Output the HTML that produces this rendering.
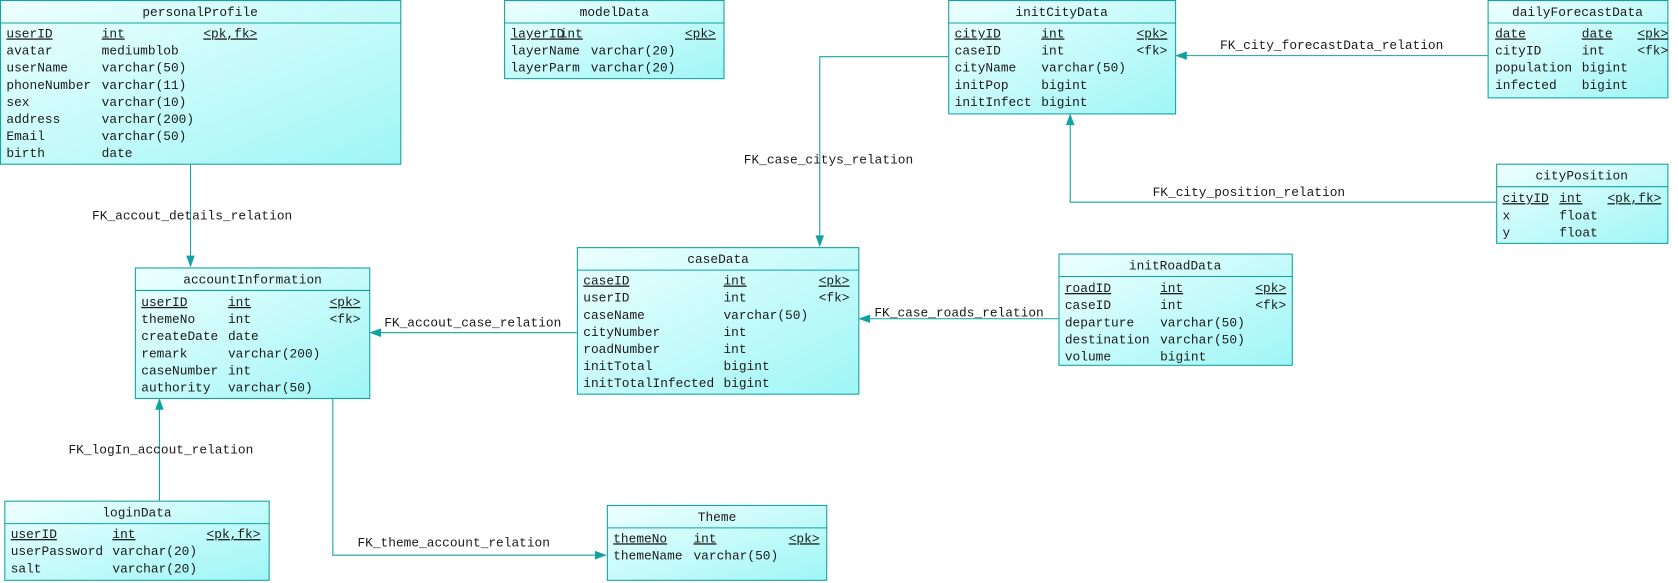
<!DOCTYPE html>
<html><head><meta charset="utf-8"><style>
html,body{margin:0;padding:0;background:#fff;width:1678px;height:583px;overflow:hidden}
svg{display:block}
text{font-family:"Liberation Mono","DejaVu Sans Mono",monospace;font-size:12px;fill:#1a1a1a}
.t{text-anchor:middle}
.u{text-decoration:underline}
.b{fill:url(#g);stroke:#12a2a2;stroke-width:1}
.l{stroke:#12a2a2;stroke-width:1;fill:none}
.a{fill:#12a2a2}
</style></head><body>
<svg width="1678" height="583" viewBox="0 0 1678 583">
<defs><linearGradient id="g" x1="0" y1="0" x2="1" y2="1"><stop offset="0" stop-color="#eeffff"/><stop offset="1" stop-color="#9ff6f6"/></linearGradient></defs>
<g transform="scale(1.0702,1.0697)">
<!-- connectors -->
<path class="l" d="M178,153V248"/><path class="a" d="M178,250l-4,-11h8z"/>
<text x="86" y="205">FK_accout_details_relation</text>
<path class="l" d="M149,468V374"/><path class="a" d="M149,372l-4,11h8z"/>
<text x="64" y="424">FK_logIn_accout_relation</text>
<path class="l" d="M539,311H347"/><path class="a" d="M345,311l11,-4v8z"/>
<text x="359" y="305">FK_accout_case_relation</text>
<path class="l" d="M311,372V519H565"/><path class="a" d="M567,519l-11,-4v8z"/>
<text x="334" y="511">FK_theme_account_relation</text>
<path class="l" d="M886,53H766V229"/><path class="a" d="M766,231l-4,-11h8z"/>
<text x="695" y="153">FK_case_citys_relation</text>
<path class="l" d="M989,298H804"/><path class="a" d="M802,298l11,-4v8z"/>
<text x="817" y="296">FK_case_roads_relation</text>
<path class="l" d="M1390,52H1100"/><path class="a" d="M1098,52l11,-4v8z"/>
<text x="1140" y="46">FK_city_forecastData_relation</text>
<path class="l" d="M1398,189H1000V108"/><path class="a" d="M1000,106l-4,11h8z"/>
<text x="1077" y="183">FK_city_position_relation</text>

<!-- personalProfile -->
<rect class="b" x="0.5" y="0.5" width="374" height="153"/><line class="l" x1="0" y1="21.5" x2="375" y2="21.5"/>
<text class="t" x="187" y="15">personalProfile</text>
<text x="6" y="35" class="u">userID</text><text x="95" y="35" class="u">int</text><text x="190" y="35" class="u">&lt;pk,fk&gt;</text>
<text x="6" y="51">avatar</text><text x="95" y="51">mediumblob</text>
<text x="6" y="67">userName</text><text x="95" y="67">varchar(50)</text>
<text x="6" y="83">phoneNumber</text><text x="95" y="83">varchar(11)</text>
<text x="6" y="99">sex</text><text x="95" y="99">varchar(10)</text>
<text x="6" y="115">address</text><text x="95" y="115">varchar(200)</text>
<text x="6" y="131">Email</text><text x="95" y="131">varchar(50)</text>
<text x="6" y="147">birth</text><text x="95" y="147">date</text>

<!-- modelData -->
<rect class="b" x="471.5" y="0.5" width="205" height="73"/><line class="l" x1="471" y1="21.5" x2="677" y2="21.5"/>
<text class="t" x="574" y="15">modelData</text>
<text x="477" y="35" class="u">layerID</text><text x="523" y="35" class="u">int</text><text x="640" y="35" class="u">&lt;pk&gt;</text>
<text x="477" y="51">layerName</text><text x="552" y="51">varchar(20)</text>
<text x="477" y="67">layerParm</text><text x="552" y="67">varchar(20)</text>

<!-- initCityData -->
<rect class="b" x="886.5" y="0.5" width="212" height="106"/><line class="l" x1="886" y1="21.5" x2="1099" y2="21.5"/>
<text class="t" x="992" y="15">initCityData</text>
<text x="892" y="35" class="u">cityID</text><text x="973" y="35" class="u">int</text><text x="1062" y="35" class="u">&lt;pk&gt;</text>
<text x="892" y="51">caseID</text><text x="973" y="51">int</text><text x="1062" y="51">&lt;fk&gt;</text>
<text x="892" y="67">cityName</text><text x="973" y="67">varchar(50)</text>
<text x="892" y="83">initPop</text><text x="973" y="83">bigint</text>
<text x="892" y="99">initInfect</text><text x="973" y="99">bigint</text>

<!-- dailyForecastData -->
<rect class="b" x="1390.5" y="0.5" width="168" height="91"/><line class="l" x1="1390" y1="21.5" x2="1559" y2="21.5"/>
<text class="t" x="1474" y="15">dailyForecastData</text>
<text x="1397" y="35" class="u">date</text><text x="1478" y="35" class="u">date</text><text x="1530" y="35" class="u">&lt;pk&gt;</text>
<text x="1397" y="51">cityID</text><text x="1478" y="51">int</text><text x="1530" y="51">&lt;fk&gt;</text>
<text x="1397" y="67">population</text><text x="1478" y="67">bigint</text>
<text x="1397" y="83">infected</text><text x="1478" y="83">bigint</text>

<!-- cityPosition -->
<rect class="b" x="1398.5" y="153.5" width="160" height="74"/><line class="l" x1="1398" y1="174.5" x2="1559" y2="174.5"/>
<text class="t" x="1478" y="168">cityPosition</text>
<text x="1404" y="189" class="u">cityID</text><text x="1457" y="189" class="u">int</text><text x="1502" y="189" class="u">&lt;pk,fk&gt;</text>
<text x="1404" y="205">x</text><text x="1457" y="205">float</text>
<text x="1404" y="221">y</text><text x="1457" y="221">float</text>

<!-- accountInformation -->
<rect class="b" x="126.5" y="250.5" width="219" height="122"/><line class="l" x1="126" y1="271.5" x2="346" y2="271.5"/>
<text class="t" x="236" y="265">accountInformation</text>
<text x="132" y="286" class="u">userID</text><text x="213" y="286" class="u">int</text><text x="308" y="286" class="u">&lt;pk&gt;</text>
<text x="132" y="302">themeNo</text><text x="213" y="302">int</text><text x="308" y="302">&lt;fk&gt;</text>
<text x="132" y="318">createDate</text><text x="213" y="318">date</text>
<text x="132" y="334">remark</text><text x="213" y="334">varchar(200)</text>
<text x="132" y="350">caseNumber</text><text x="213" y="350">int</text>
<text x="132" y="366">authority</text><text x="213" y="366">varchar(50)</text>

<!-- caseData -->
<rect class="b" x="539.5" y="231.5" width="263" height="137"/><line class="l" x1="539" y1="252.5" x2="803" y2="252.5"/>
<text class="t" x="671" y="246">caseData</text>
<text x="545" y="266" class="u">caseID</text><text x="676" y="266" class="u">int</text><text x="765" y="266" class="u">&lt;pk&gt;</text>
<text x="545" y="282">userID</text><text x="676" y="282">int</text><text x="765" y="282">&lt;fk&gt;</text>
<text x="545" y="298">caseName</text><text x="676" y="298">varchar(50)</text>
<text x="545" y="314">cityNumber</text><text x="676" y="314">int</text>
<text x="545" y="330">roadNumber</text><text x="676" y="330">int</text>
<text x="545" y="346">initTotal</text><text x="676" y="346">bigint</text>
<text x="545" y="362">initTotalInfected</text><text x="676" y="362">bigint</text>

<!-- initRoadData -->
<rect class="b" x="989.5" y="237.5" width="218" height="104"/><line class="l" x1="989" y1="258.5" x2="1208" y2="258.5"/>
<text class="t" x="1098" y="252">initRoadData</text>
<text x="995" y="273" class="u">roadID</text><text x="1084" y="273" class="u">int</text><text x="1173" y="273" class="u">&lt;pk&gt;</text>
<text x="995" y="289">caseID</text><text x="1084" y="289">int</text><text x="1173" y="289">&lt;fk&gt;</text>
<text x="995" y="305">departure</text><text x="1084" y="305">varchar(50)</text>
<text x="995" y="321">destination</text><text x="1084" y="321">varchar(50)</text>
<text x="995" y="337">volume</text><text x="1084" y="337">bigint</text>

<!-- loginData -->
<rect class="b" x="4.5" y="468.5" width="247" height="74"/><line class="l" x1="4" y1="489.5" x2="252" y2="489.5"/>
<text class="t" x="128" y="483">loginData</text>
<text x="10" y="503" class="u">userID</text><text x="105" y="503" class="u">int</text><text x="193" y="503" class="u">&lt;pk,fk&gt;</text>
<text x="10" y="519">userPassword</text><text x="105" y="519">varchar(20)</text>
<text x="10" y="535">salt</text><text x="105" y="535">varchar(20)</text>

<!-- Theme -->
<rect class="b" x="567.5" y="472.5" width="205" height="70"/><line class="l" x1="567" y1="493.5" x2="773" y2="493.5"/>
<text class="t" x="670" y="487">Theme</text>
<text x="573" y="507" class="u">themeNo</text><text x="648" y="507" class="u">int</text><text x="737" y="507" class="u">&lt;pk&gt;</text>
<text x="573" y="523">themeName</text><text x="648" y="523">varchar(50)</text>
</g>
</svg>
</body></html>
